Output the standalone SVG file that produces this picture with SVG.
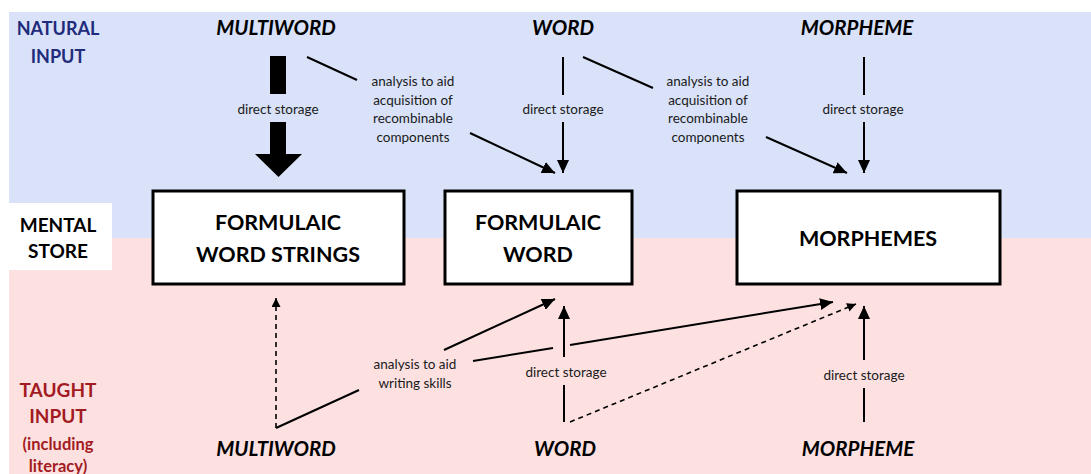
<svg xmlns="http://www.w3.org/2000/svg" width="1091" height="474" viewBox="0 0 1091 474">
<style>
.bg-blue{fill:#d9e2f9}
.bg-pink{fill:#fde1e1}
.side{font-family:Lato,"Liberation Sans",sans-serif;font-weight:bold;font-size:18px;text-anchor:middle}
.nat{fill:#1f2b7b}
.tau{fill:#a31b22;font-size:19px}
.ment{fill:#000;font-size:19px}
.inp{font-family:Lato,"Liberation Sans",sans-serif;font-weight:bold;font-style:italic;font-size:20.5px;text-anchor:middle;fill:#000}
.box{fill:#fff;stroke:#000;stroke-width:3}
.btxt{font-family:Lato,"Liberation Sans",sans-serif;font-weight:bold;font-size:21.5px;text-anchor:middle;fill:#000}
.lbl{font-family:Lato,"Liberation Sans",sans-serif;font-size:13.5px;text-anchor:middle;fill:#1a1a1a}
.ln{stroke:#000;stroke-width:2;fill:none}
.dash{stroke:#000;stroke-width:1.6;fill:none;stroke-dasharray:5,4}
</style>
<defs>
<marker id="ah" markerUnits="userSpaceOnUse" markerWidth="14" markerHeight="12" refX="13" refY="6" orient="auto">
<path d="M0,0 L13,6 L0,12 z" fill="#000"/>
</marker>
<marker id="ahs" markerUnits="userSpaceOnUse" markerWidth="10" markerHeight="10" refX="9" refY="4.5" orient="auto">
<path d="M0,0 L9,4.5 L0,9 z" fill="#000"/>
</marker>
</defs>

<rect x="0" y="0" width="1091" height="474" fill="#fff"/>
<rect class="bg-blue" x="9" y="12" width="1082" height="226"/>
<rect class="bg-pink" x="9" y="238" width="1082" height="236"/>
<rect x="9" y="203" width="103" height="67" fill="#fff"/>

<g id="label-natural">
<text class="side nat" x="58" y="35">NATURAL</text>
<text class="side nat" x="58" y="63">INPUT</text>
</g>
<g id="label-mental">
<text class="side ment" x="58" y="232">MENTAL</text>
<text class="side ment" x="58" y="258">STORE</text>
</g>
<g id="label-taught">
<text class="side tau" x="58" y="397">TAUGHT</text>
<text class="side tau" x="58" y="423">INPUT</text>
<text class="side tau" x="58" y="450" style="font-size:16.5px">(including</text>
<text class="side tau" x="58" y="472" style="font-size:16.5px">literacy)</text>
</g>

<g id="nat-multiword"><text class="inp" x="276" y="35">MULTIWORD</text></g>
<g id="nat-word"><text class="inp" x="563" y="35">WORD</text></g>
<g id="nat-morpheme"><text class="inp" x="857" y="35">MORPHEME</text></g>

<g id="taught-multiword"><text class="inp" x="276" y="456">MULTIWORD</text></g>
<g id="taught-word"><text class="inp" x="565" y="456">WORD</text></g>
<g id="taught-morpheme"><text class="inp" x="858" y="456">MORPHEME</text></g>

<g id="box-strings">
<rect class="box" x="153" y="191" width="251" height="93"/>
<text class="btxt" x="278" y="230">FORMULAIC</text>
<text class="btxt" x="278" y="262">WORD STRINGS</text>
</g>
<g id="box-word">
<rect class="box" x="445" y="191" width="187" height="93"/>
<text class="btxt" x="538" y="230">FORMULAIC</text>
<text class="btxt" x="538" y="262">WORD</text>
</g>
<g id="box-morphemes">
<rect class="box" x="737" y="191" width="263" height="93"/>
<text class="btxt" x="868" y="246">MORPHEMES</text>
</g>

<g id="connectors">
<rect x="270" y="56" width="16" height="38" fill="#000"/>
<rect x="270" y="122" width="16" height="33" fill="#000"/>
<polygon points="255,154 302,154 278.5,177" fill="#000"/>
<text class="lbl" x="278" y="114">direct storage</text>

<line class="ln" x1="307" y1="57" x2="357" y2="80"/>
<line class="ln" x1="470" y1="133" x2="555" y2="173" marker-end="url(#ah)"/>
<text class="lbl" x="413" y="86">analysis to aid</text>
<text class="lbl" x="413" y="104.5">acquisition of</text>
<text class="lbl" x="413" y="123">recombinable</text>
<text class="lbl" x="413" y="141.5">components</text>

<line class="ln" x1="563" y1="57" x2="563" y2="95"/>
<line class="ln" x1="563" y1="122" x2="563" y2="173" marker-end="url(#ah)"/>
<text class="lbl" x="563" y="114">direct storage</text>

<line class="ln" x1="583" y1="57" x2="653" y2="88"/>
<line class="ln" x1="766" y1="137" x2="847" y2="173" marker-end="url(#ah)"/>
<text class="lbl" x="708" y="86">analysis to aid</text>
<text class="lbl" x="708" y="104.5">acquisition of</text>
<text class="lbl" x="708" y="123">recombinable</text>
<text class="lbl" x="708" y="141.5">components</text>

<line class="ln" x1="864" y1="57" x2="864" y2="95"/>
<line class="ln" x1="864" y1="122" x2="864" y2="173" marker-end="url(#ah)"/>
<text class="lbl" x="863" y="114">direct storage</text>

<line class="dash" x1="276" y1="428" x2="276" y2="298" marker-end="url(#ahs)"/>
<line class="ln" x1="276" y1="428" x2="359" y2="390"/>
<text class="lbl" x="415" y="369">analysis to aid</text>
<text class="lbl" x="415" y="388">writing skills</text>
<line class="ln" x1="444" y1="350" x2="555" y2="299" marker-end="url(#ah)"/>
<line class="ln" x1="473" y1="361" x2="553" y2="348"/>
<line class="ln" x1="570" y1="345" x2="833" y2="302" marker-end="url(#ah)"/>

<line class="ln" x1="564" y1="422" x2="564" y2="385"/>
<line class="ln" x1="564" y1="357" x2="564" y2="306" marker-end="url(#ah)"/>
<text class="lbl" x="566" y="377">direct storage</text>
<line class="dash" x1="570" y1="422" x2="856" y2="304" marker-end="url(#ahs)"/>

<line class="ln" x1="864" y1="422" x2="864" y2="388"/>
<line class="ln" x1="864" y1="360" x2="864" y2="306" marker-end="url(#ah)"/>
<text class="lbl" x="864" y="380">direct storage</text>
</g>
</svg>
